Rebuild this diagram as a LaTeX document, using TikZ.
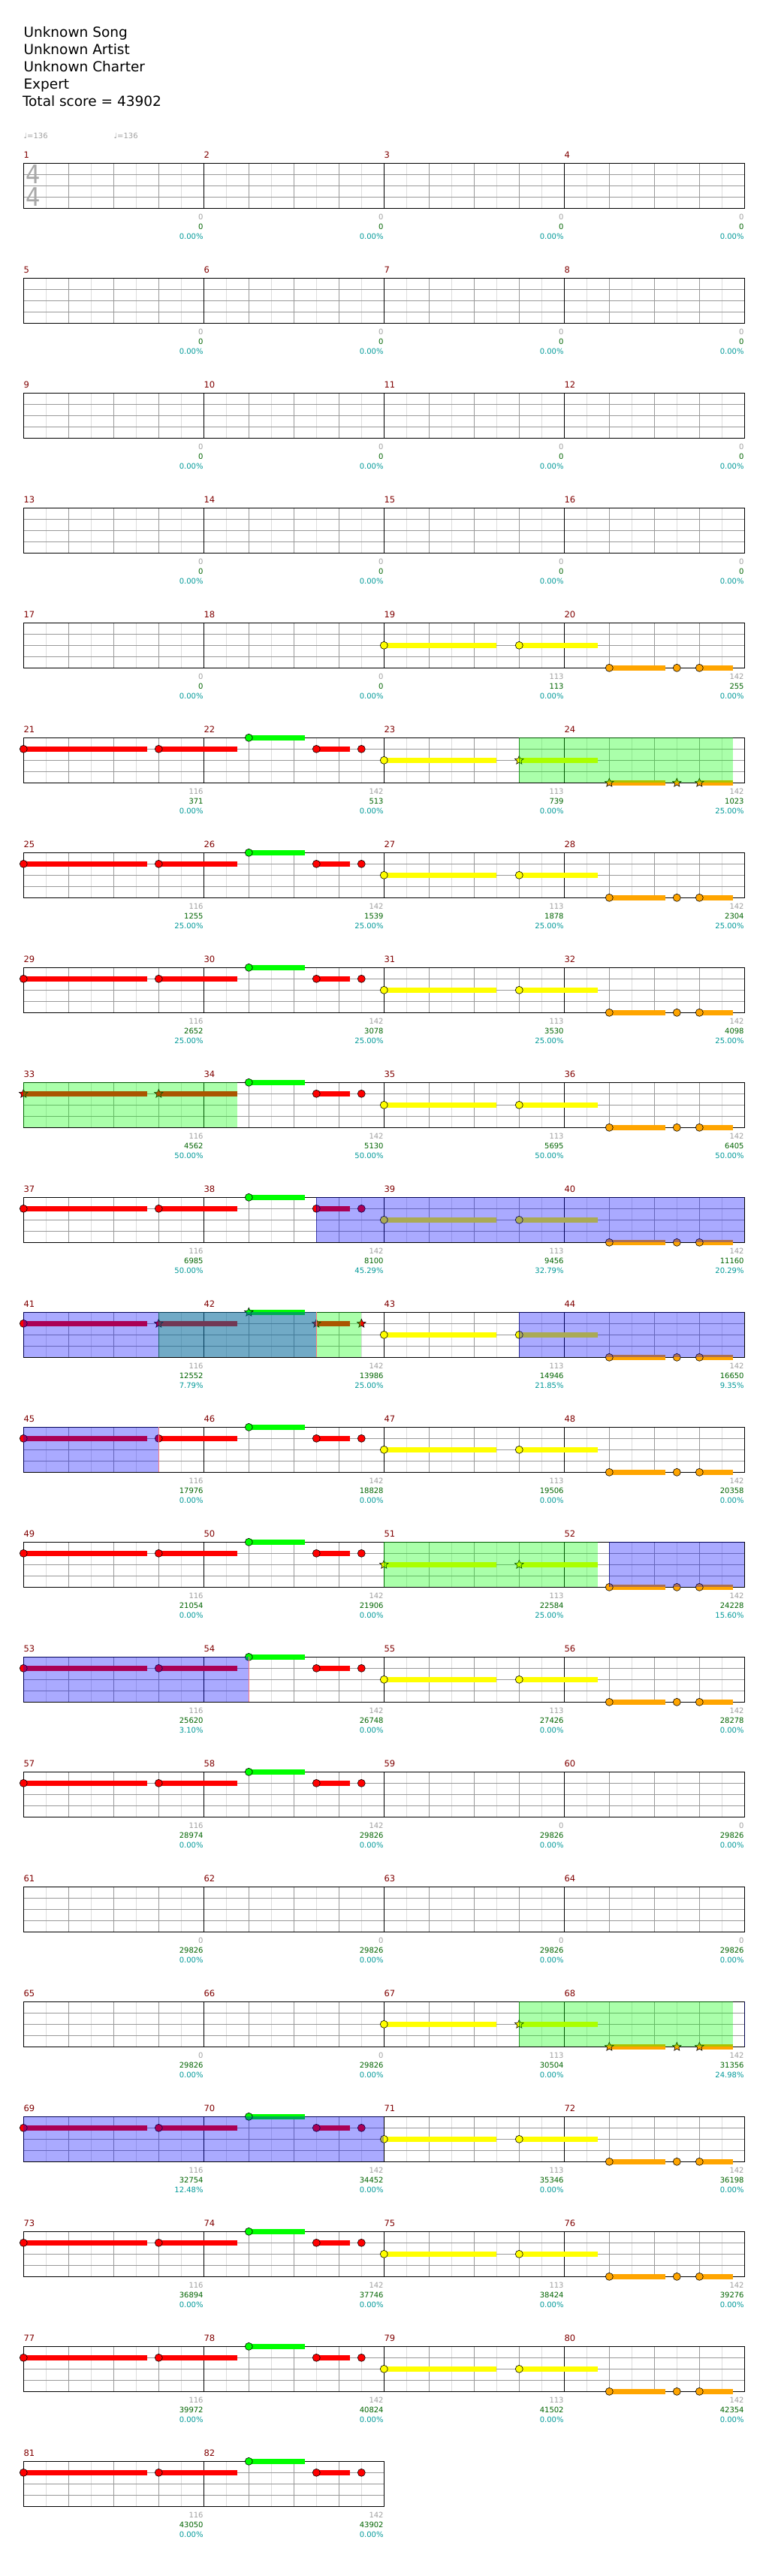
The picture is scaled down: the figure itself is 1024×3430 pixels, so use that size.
\documentclass[tikz,border=0pt]{standalone}
\usepackage{fontspec}
\setmainfont{DejaVu Sans}
\newfontfamily\sigfont[FakeStretch=0.9]{DejaVu Sans}
\usepackage{tikz}
\usetikzlibrary{shapes.geometric}

\definecolor{barnum}{HTML}{800000}
\definecolor{basegray}{HTML}{A0A0A0}
\definecolor{sigray}{HTML}{A8A8A8}
\definecolor{scoregreen}{HTML}{006400}
\definecolor{pctteal}{HTML}{009999}
\definecolor{eighthgray}{HTML}{DDDDDD}
\definecolor{lanegray}{HTML}{999999}
\definecolor{fretgreen}{HTML}{00FF00}
\definecolor{fretred}{HTML}{FF0000}
\definecolor{fretyellow}{HTML}{FFFF00}
\definecolor{fretorange}{HTML}{FFA500}
\definecolor{spblue}{HTML}{0000FF}

\tikzset{
  hdr/.style    ={anchor=base west,inner sep=0pt,font=\fontsize{18.5}{22}\selectfont},
  tempo/.style  ={anchor=base west,inner sep=0pt,text=basegray,font=\fontsize{10}{12}\selectfont},
  timesig/.style={inner sep=0pt,text=sigray,font=\sigfont\fontsize{34}{36}\selectfont},
  barlbl/.style ={anchor=west,inner sep=0pt,text=barnum,font=\fontsize{11.5}{13}\selectfont},
  basenum/.style={anchor=east,inner sep=0pt,text=basegray,font=\fontsize{10}{12}\selectfont},
  totnum/.style ={basenum,text=scoregreen},
  pctnum/.style ={basenum,text=pctteal},
  eighthline/.style={eighthgray,line width=0.8pt},
  beatline/.style  ={lanegray,line width=0.9pt},
  laneline/.style  ={lanegray,line width=1pt},
  barline/.style   ={black,line width=0.9pt},
  staffbox/.style  ={black,line width=1.3pt},
  gem/.style    ={circle,draw=black,line width=0.6pt,minimum size=10pt,inner sep=0pt},
  spgem/.style  ={star,star points=5,star point ratio=2.2,draw=black,line width=0.6pt,minimum size=12pt,inner sep=0pt},
  sust/.style   ={line width=7pt},
  spfill/.style ={fill=fretgreen,fill opacity=0.333},
  spedge/.style ={draw=green!50!black,line width=0.8pt,draw opacity=0.6},
  actfill/.style={fill=spblue,fill opacity=0.333},
  actedge/.style={draw=blue!50!black,line width=0.8pt,draw opacity=0.6},
  actstop/.style={draw=red!50,line width=0.8pt},
  rowshift/.style={shift={(31.3,217.3+153*#1)}},
}

% grid of one row: #1 measures, #2 first measure number
\newcommand\staffgrid[2]{%
  \pgfmathtruncatemacro\neighth{8*#1}%
  \pgfmathtruncatemacro\nbeat{4*#1}%
  \foreach \i in {1,...,\neighth} \draw[eighthline] (30*\i,0) -- (30*\i,60);
  \foreach \i in {1,...,\nbeat} \draw[beatline] (60*\i,0) -- (60*\i,60);
  \foreach \j in {15,30,45} \draw[laneline] (0,\j) -- (240*#1,\j);
  \foreach \k in {1,...,#1}{%
    \pgfmathtruncatemacro\mnum{#2+\k-1}%
    \draw[barline] (240*\k-240,0) -- (240*\k-240,60);
    \node[barlbl] (bar\mnum) at (240*\k-240,-11.3) {\mnum};
  }%
  \draw[staffbox] (0,0) rectangle (240*#1,60);
}

% numbers under each measure: #1 first measure, #2 list base/total/percent
\newcommand\scorerow[2]{%
  \foreach \g/\s/\p [count=\k] in {#2}{%
    \pgfmathtruncatemacro\mm{#1+\k-1}%
    \node[basenum] (base\mm) at (240*\k-0.5,71.4) {\g};
    \node[totnum] (tot\mm) at (240*\k-0.5,84.5) {\s};
    \node[pctnum] (pct\mm) at (240*\k-0.5,97.5) {\p\%};
  }%
}

% red/green half (two measures)
\newcommand\partA[6]{%
  \draw[sust,fretred] (0,15) -- (165,15);
  \draw[sust,fretred] (180,15) -- (285,15);
  \draw[sust,fretgreen] (300,0) -- (375,0);
  \draw[sust,fretred] (390,15) -- (435,15);
  \node[#2,fill=fretred] (#1r1) at (0,15) {};
  \node[#3,fill=fretred] (#1r2) at (180,15) {};
  \node[#4,fill=fretgreen] (#1g1) at (300,0) {};
  \node[#5,fill=fretred] (#1r3) at (390,15) {};
  \node[#6,fill=fretred] (#1r4) at (450,15) {};
}

% yellow/orange half (two measures)
\newcommand\partB[6]{%
  \draw[sust,fretyellow] (480,30) -- (630,30);
  \draw[sust,fretyellow] (660,30) -- (765,30);
  \draw[sust,fretorange] (780,60) -- (855,60);
  \draw[sust,fretorange] (900,60) -- (945,60);
  \node[#2,fill=fretyellow] (#1y1) at (480,30) {};
  \node[#3,fill=fretyellow] (#1y2) at (660,30) {};
  \node[#4,fill=fretorange] (#1o1) at (780,60) {};
  \node[#5,fill=fretorange] (#1o2) at (870,60) {};
  \node[#6,fill=fretorange] (#1o3) at (900,60) {};
}

\newcommand\sparea[2]{\fill[spfill] (#1,0) rectangle (#2,60); \draw[spedge] (#1,0) -- (#1,60);}
\newcommand\actarea[2]{\fill[actfill] (#1,0) rectangle (#2,60);}
\newcommand\actstart[1]{\draw[actedge] (#1,0) -- (#1,60);}
\newcommand\actend[1]{\draw[actstop] (#1,0) -- (#1,60);}

\begin{document}
\begin{tikzpicture}[x=1pt,y=-1pt]
  \fill[white] (0,0) rectangle (1024,3430);
  \useasboundingbox (0,0) rectangle (1024,3430);

  \node[hdr] (song)    at (31.3,49.3)  {Unknown Song};
  \node[hdr] (artist)  at (31.3,72.3)  {Unknown Artist};
  \node[hdr] (charter) at (31.3,95.3)  {Unknown Charter};
  \node[hdr] (diff)    at (31.3,118.3) {Expert};
  \node[hdr] (total)   at (29.8,141.3) {Total score = 43902};

  \node[tempo] (bpm1) at (31.3,184)  {♩=136};
  \node[tempo] (bpm2) at (151.3,184) {♩=136};

  % empty rows
  \foreach \r in {0,...,3}{
    \pgfmathtruncatemacro\first{4*\r+1}
    \begin{scope}[rowshift=\r]
      \staffgrid{4}{\first}
      \scorerow{\first}{0/0/0.00,0/0/0.00,0/0/0.00,0/0/0.00}
    \end{scope}
  }
  \begin{scope}[rowshift=0]
    \node[timesig] (tsnum) at (12.5,15) {4};
    \node[timesig] (tsden) at (12.5,45) {4};
  \end{scope}

  \begin{scope}[rowshift=4]
    \staffgrid{4}{17}
    \partB{m19}{gem}{gem}{gem}{gem}{gem}
    \scorerow{17}{0/0/0.00,0/0/0.00,113/113/0.00,142/255/0.00}
  \end{scope}

  \begin{scope}[rowshift=5]
    \staffgrid{4}{21}
    \partA{m21}{gem}{gem}{gem}{gem}{gem}
    \partB{m23}{gem}{spgem}{spgem}{spgem}{spgem}
    \sparea{660}{945}
    \scorerow{21}{116/371/0.00,142/513/0.00,113/739/0.00,142/1023/25.00}
  \end{scope}

  \begin{scope}[rowshift=6]
    \staffgrid{4}{25}
    \partA{m25}{gem}{gem}{gem}{gem}{gem}
    \partB{m27}{gem}{gem}{gem}{gem}{gem}
    \scorerow{25}{116/1255/25.00,142/1539/25.00,113/1878/25.00,142/2304/25.00}
  \end{scope}

  \begin{scope}[rowshift=7]
    \staffgrid{4}{29}
    \partA{m29}{gem}{gem}{gem}{gem}{gem}
    \partB{m31}{gem}{gem}{gem}{gem}{gem}
    \scorerow{29}{116/2652/25.00,142/3078/25.00,113/3530/25.00,142/4098/25.00}
  \end{scope}

  \begin{scope}[rowshift=8]
    \staffgrid{4}{33}
    \partA{m33}{spgem}{spgem}{gem}{gem}{gem}
    \partB{m35}{gem}{gem}{gem}{gem}{gem}
    \sparea{0}{285}
    \scorerow{33}{116/4562/50.00,142/5130/50.00,113/5695/50.00,142/6405/50.00}
  \end{scope}

  \begin{scope}[rowshift=9]
    \staffgrid{4}{37}
    \partA{m37}{gem}{gem}{gem}{gem}{gem}
    \partB{m39}{gem}{gem}{gem}{gem}{gem}
    \actarea{390}{960} \actstart{390}
    \scorerow{37}{116/6985/50.00,142/8100/45.29,113/9456/32.79,142/11160/20.29}
  \end{scope}

  \begin{scope}[rowshift=10]
    \staffgrid{4}{41}
    \partA{m41}{gem}{spgem}{spgem}{spgem}{spgem}
    \partB{m43}{gem}{gem}{gem}{gem}{gem}
    \sparea{180}{450}
    \actarea{0}{390} \actend{390}
    \actarea{660}{960} \actstart{660}
    \scorerow{41}{116/12552/7.79,142/13986/25.00,113/14946/21.85,142/16650/9.35}
  \end{scope}

  \begin{scope}[rowshift=11]
    \staffgrid{4}{45}
    \partA{m45}{gem}{gem}{gem}{gem}{gem}
    \partB{m47}{gem}{gem}{gem}{gem}{gem}
    \actarea{0}{180} \actend{180}
    \scorerow{45}{116/17976/0.00,142/18828/0.00,113/19506/0.00,142/20358/0.00}
  \end{scope}

  \begin{scope}[rowshift=12]
    \staffgrid{4}{49}
    \partA{m49}{gem}{gem}{gem}{gem}{gem}
    \partB{m51}{spgem}{spgem}{gem}{gem}{gem}
    \sparea{480}{765}
    \actarea{780}{960} \actstart{780}
    \scorerow{49}{116/21054/0.00,142/21906/0.00,113/22584/25.00,142/24228/15.60}
  \end{scope}

  \begin{scope}[rowshift=13]
    \staffgrid{4}{53}
    \partA{m53}{gem}{gem}{gem}{gem}{gem}
    \partB{m55}{gem}{gem}{gem}{gem}{gem}
    \actarea{0}{300} \actend{300}
    \scorerow{53}{116/25620/3.10,142/26748/0.00,113/27426/0.00,142/28278/0.00}
  \end{scope}

  \begin{scope}[rowshift=14]
    \staffgrid{4}{57}
    \partA{m57}{gem}{gem}{gem}{gem}{gem}
    \scorerow{57}{116/28974/0.00,142/29826/0.00,0/29826/0.00,0/29826/0.00}
  \end{scope}

  \begin{scope}[rowshift=15]
    \staffgrid{4}{61}
    \scorerow{61}{0/29826/0.00,0/29826/0.00,0/29826/0.00,0/29826/0.00}
  \end{scope}

  \begin{scope}[rowshift=16]
    \staffgrid{4}{65}
    \partB{m67}{gem}{spgem}{spgem}{spgem}{spgem}
    \sparea{660}{945}
    \actstart{960}
    \scorerow{65}{0/29826/0.00,0/29826/0.00,113/30504/0.00,142/31356/24.98}
  \end{scope}

  \begin{scope}[rowshift=17]
    \staffgrid{4}{69}
    \partA{m69}{gem}{gem}{gem}{gem}{gem}
    \partB{m71}{gem}{gem}{gem}{gem}{gem}
    \actarea{0}{480}
    \scorerow{69}{116/32754/12.48,142/34452/0.00,113/35346/0.00,142/36198/0.00}
  \end{scope}

  \begin{scope}[rowshift=18]
    \staffgrid{4}{73}
    \partA{m73}{gem}{gem}{gem}{gem}{gem}
    \partB{m75}{gem}{gem}{gem}{gem}{gem}
    \scorerow{73}{116/36894/0.00,142/37746/0.00,113/38424/0.00,142/39276/0.00}
  \end{scope}

  \begin{scope}[rowshift=19]
    \staffgrid{4}{77}
    \partA{m77}{gem}{gem}{gem}{gem}{gem}
    \partB{m79}{gem}{gem}{gem}{gem}{gem}
    \scorerow{77}{116/39972/0.00,142/40824/0.00,113/41502/0.00,142/42354/0.00}
  \end{scope}

  \begin{scope}[rowshift=20]
    \staffgrid{2}{81}
    \partA{m81}{gem}{gem}{gem}{gem}{gem}
    \scorerow{81}{116/43050/0.00,142/43902/0.00}
  \end{scope}
\end{tikzpicture}
\end{document}
